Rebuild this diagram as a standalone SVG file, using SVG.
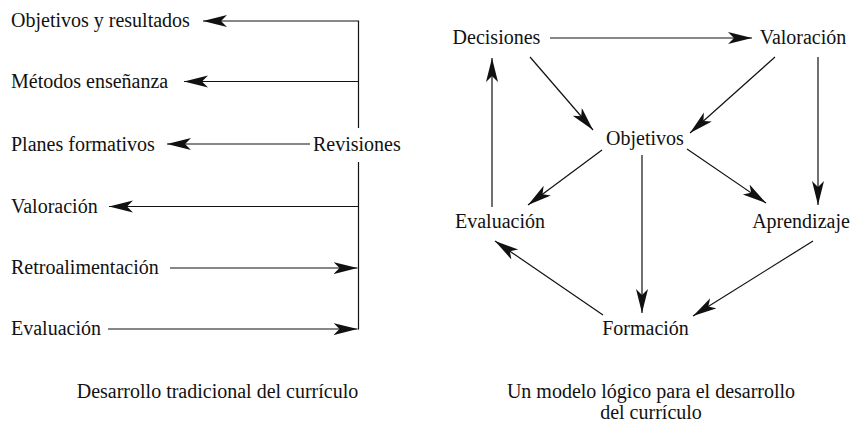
<svg xmlns="http://www.w3.org/2000/svg" width="852" height="425" viewBox="0 0 852 425">
<style>
text { font-family: "Liberation Serif", "Times New Roman", serif; font-size: 20px; fill: #111; }
.m { text-anchor: middle; }
.c line, .c path { stroke: #111; stroke-width: 1.2; fill: none; }
</style>
<defs>
<marker id="ah" markerUnits="userSpaceOnUse" markerWidth="26" markerHeight="14" refX="24" refY="6" orient="auto" viewBox="0 0 26 14">
<path d="M0,0 L24,6 L0,12 L6,6 Z" fill="#111"/>
</marker>
</defs>
<rect width="852" height="425" fill="#fff"/>

<g id="left-nodes">
<g id="l-objetivos"><text x="11" y="27">Objetivos y resultados</text></g>
<g id="l-metodos"><text x="11" y="88">Métodos enseñanza</text></g>
<g id="l-planes"><text x="11" y="151">Planes formativos</text></g>
<g id="l-revisiones"><text x="313" y="151">Revisiones</text></g>
<g id="l-valoracion"><text x="11" y="213">Valoración</text></g>
<g id="l-retro"><text x="11" y="274">Retroalimentación</text></g>
<g id="l-evaluacion"><text x="11" y="335">Evaluación</text></g>
</g>

<g id="right-nodes">
<g id="r-decisiones"><text class="m" x="496.5" y="44">Decisiones</text></g>
<g id="r-valoracion"><text class="m" x="803" y="44">Valoración</text></g>
<g id="r-objetivos"><text class="m" x="645" y="145">Objetivos</text></g>
<g id="r-evaluacion"><text class="m" x="500" y="228">Evaluación</text></g>
<g id="r-aprendizaje"><text class="m" x="801" y="228">Aprendizaje</text></g>
<g id="r-formacion"><text class="m" x="645.5" y="335">Formación</text></g>
</g>

<g id="captions">
<text class="m" x="217.5" y="398">Desarrollo tradicional del currículo</text>
<text class="m" x="651" y="398">Un modelo lógico para el desarrollo</text>
<text class="m" x="651" y="419">del currículo</text>
</g>

<g id="connectors" class="c">
<line x1="358.5" y1="21" x2="358.5" y2="128"/>
<line x1="358.5" y1="162" x2="358.5" y2="329.6"/>
<line x1="359.1" y1="21" x2="203" y2="21" marker-end="url(#ah)"/>
<line x1="358.5" y1="81.5" x2="184" y2="81.5" marker-end="url(#ah)"/>
<line x1="310" y1="144" x2="167" y2="144" marker-end="url(#ah)"/>
<line x1="358.5" y1="206.5" x2="109" y2="206.5" marker-end="url(#ah)"/>
<line x1="170" y1="268" x2="357.5" y2="268" marker-end="url(#ah)"/>
<line x1="108" y1="329" x2="357.5" y2="329" marker-end="url(#ah)"/>

<line x1="550" y1="38" x2="752" y2="38" marker-end="url(#ah)"/>
<line x1="530" y1="57" x2="593" y2="130" marker-end="url(#ah)"/>
<line x1="775" y1="57" x2="690" y2="133" marker-end="url(#ah)"/>
<line x1="602" y1="150" x2="528" y2="205" marker-end="url(#ah)"/>
<line x1="642" y1="155" x2="642" y2="313" marker-end="url(#ah)"/>
<line x1="687" y1="149" x2="766" y2="203" marker-end="url(#ah)"/>
<line x1="818" y1="57" x2="818" y2="205" marker-end="url(#ah)"/>
<line x1="492" y1="207" x2="492" y2="58" marker-end="url(#ah)"/>
<line x1="603" y1="315" x2="495" y2="241" marker-end="url(#ah)"/>
<line x1="813" y1="241" x2="693" y2="316" marker-end="url(#ah)"/>
</g>
</svg>
